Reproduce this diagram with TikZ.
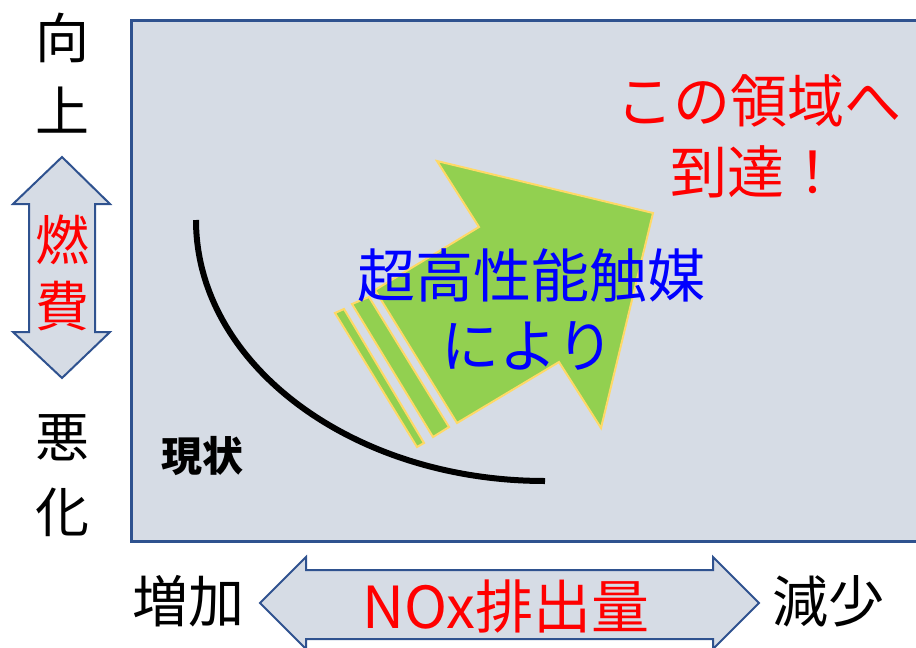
\documentclass[tikz,border=0pt]{standalone}
\usepackage{fontspec}
\setmainfont{Noto Sans CJK JP}
\definecolor{panelfill}{HTML}{D6DCE5}
\definecolor{panelline}{HTML}{2F528F}
\definecolor{arrowgreen}{HTML}{92D050}
\definecolor{arrowgold}{HTML}{FFD966}
\definecolor{txtred}{HTML}{FF0000}
\definecolor{txtblue}{HTML}{0000FF}
\tikzset{
  panel/.style={fill=panelfill, draw=panelline, line width=3pt},
  dblarrow/.style={fill=panelfill, draw=panelline, line width=2pt, line join=miter},
  greenshape/.style={fill=arrowgreen, draw=arrowgold, line width=2pt, line join=miter},
  bigtxt/.style={inner sep=0pt, font=\fontsize{54}{60}\selectfont},
  midtxt/.style={inner sep=0pt, font=\fontsize{58}{60}\selectfont},
}
\begin{document}
\begin{tikzpicture}[x=1pt,y=-1pt]
\useasboundingbox (0,0) rectangle (916,648);
% main panel
\draw[panel] (131,20) -- (930,20) -- (930,541) -- (131,541) -- cycle;
% current curve
\coordinate (cs) at (196,220);
\draw[line width=6pt, black] (cs) arc[start angle=180, end angle=270, x radius=349pt, y radius=261pt] coordinate (ce);
% green arrow and stripes
\draw[greenshape] (375,290) -- (479,227) -- (437,161) -- (653,213) -- (601,428) -- (559,362) -- (457,423) -- cycle;
\draw[greenshape] (352,304) -- (369,297) -- (449,427) -- (433,437) -- cycle;
\draw[greenshape] (335,313) -- (344,309) -- (424,443) -- (417,447) -- cycle;
% vertical double arrow
\draw[dblarrow] (62,157) -- (110,204) -- (95,204) -- (95,332) -- (110,332) -- (62,378) -- (13,332) -- (29,332) -- (29,204) -- (13,204) -- cycle;
% horizontal double arrow
\draw[dblarrow] (260,603) -- (306,557) -- (306,570) -- (713,570) -- (713,557) -- (759,603) -- (713,649) -- (713,639) -- (306,639) -- (306,649) -- cycle;
% texts
\node[bigtxt] (t1) at (62,38) {向};
\node[bigtxt] (t2) at (62,110) {上};
\node[bigtxt, text=txtred] (t3) at (62,240) {燃};
\node[bigtxt, text=txtred] (t4) at (62,306) {費};
\node[bigtxt] (t5) at (62,438) {悪};
\node[bigtxt] (t6) at (62,512) {化};
\node[inner sep=0pt, font=\fontsize{56}{60}\selectfont] (t7) at (188,601) {増加};
\node[inner sep=0pt, font=\fontsize{56}{60}\selectfont] (t8) at (828,601) {減少};
\node[inner sep=0pt, text=txtred, font=\fontsize{58}{60}\selectfont] (t9) at (506,606) {NOx排出量};
\node[midtxt, text=txtblue] (t10) at (531,275) {超高性能触媒};
\node[midtxt, text=txtblue] (t11) at (528,346) {により};
\node[inner sep=0pt, font=\fontsize{57}{60}\selectfont, text=txtred] (t12) at (759,101) {この領域へ};
\node[inner sep=0pt, font=\fontsize{57}{60}\selectfont, text=txtred] (t13) at (756,172) {到達！};
\node[inner sep=0pt, font=\fontsize{41}{44}\selectfont\bfseries] (t14) at (202,456) {現状};
\end{tikzpicture}
\end{document}
